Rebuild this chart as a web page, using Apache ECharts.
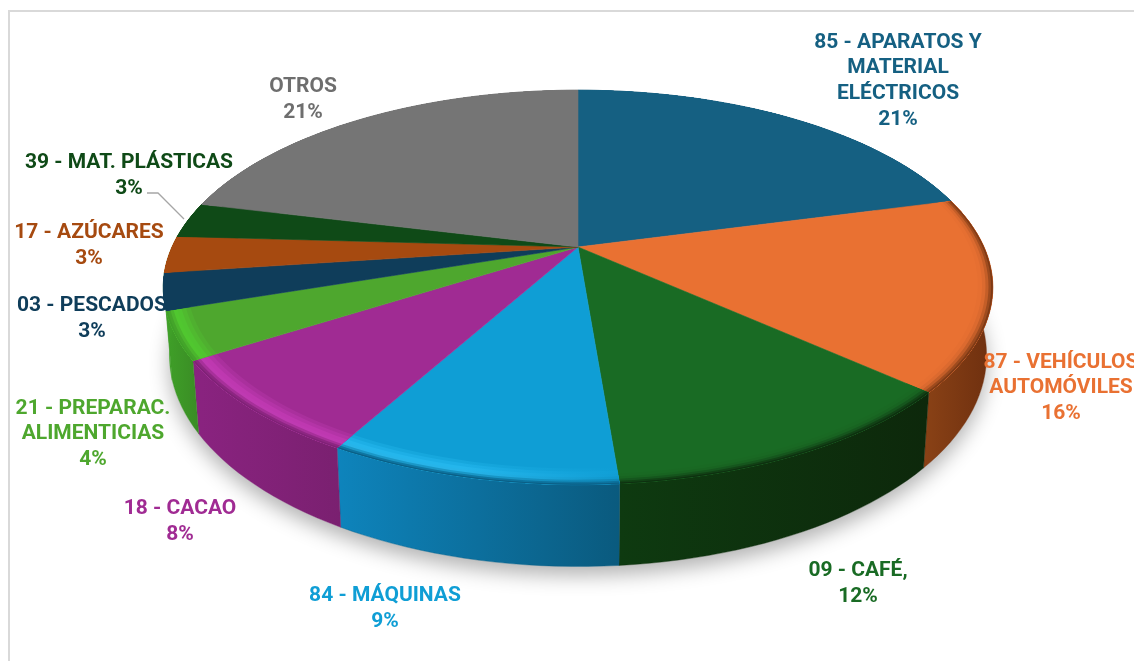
<!DOCTYPE html>
<html>
<head>
<meta charset="utf-8">
<style>html,body{margin:0;padding:0;background:#fff;overflow:hidden}#c{width:1134px;height:661px;filter:blur(0.45px)}</style>
<script src="https://cdn.jsdelivr.net/npm/echarts@6/dist/echarts.min.js"></script>
</head>
<body>
<div id="c"></div>
<script>
// ---- data ----
const categories = ['85 - APARATOS Y\nMATERIAL\nELÉCTRICOS','87 - VEHÍCULOS\nAUTOMÓVILES','09 - CAFÉ,','84 - MÁQUINAS','18 - CACAO','21 - PREPARAC.\nALIMENTICIAS','03 - PESCADOS','17 - AZÚCARES','39 - MAT. PLÁSTICAS','OTROS'];
const shares = [20.9,15.7,12.1,9.4,7.9,3.9,3,3,2.9,21.2];
// ---- styles ----
const topColors  = ['#156082','#E97132','#196B24','#0F9ED5','#A02B93','#4EA72E','#0F3D5A','#A64A10','#0F4A17','#757575'];
const textColors = ['#156082','#E97132','#196B24','#0F9ED5','#A02B93','#4EA72E','#0F3D5A','#A64A10','#0F4A17','#6E6E6E'];
const glowColors = ['#156082','#E97132','#196B24','#2BC0F6','#C83DBA','#52CC30','#0F3D5A','#A64A10','#0F4A17','#757575'];
const glowFade   = [1,1,1,0.05,1,1,1,1,1,1];
const wallLeft   = ['#0E4A66','#8A4216','#0E3A10','#0E84BC','#8A2380','#3FA028','#3FA028','#3FA028','#3FA028','#585858'];
const wallRight  = ['#0E4A66','#6E2F0F','#0D280B','#0A5A7E','#7A2070','#3A8C25','#3FA028','#3FA028','#3FA028','#585858'];
const wallEdge   = ['#156082','#7E3A15','#0D300F','#0A5F86','#7F2276','#3FA028','#0F3D5A','#A64A10','#0F4A17','#757575'];
// ---- layout ----
const labelAt = [[898,81],[1061,388],[858,584],[385,609],[180,522],[93,434],[92,319],[89,246],[129,176],[303,100]];
const P = {cx:578, cy:247, a:189, b:0.205, c:406, depth:65, shrink:0.985};

function project(pct, r, lower){
  const t = pct/100*2*Math.PI, u = r*Math.sin(t), v = -r*Math.cos(t);
  const d = 1 - P.b*v;
  let x = P.c*u/d, y = P.a*v/d;
  if(lower){ x *= P.shrink; y += P.depth/d; }
  return [P.cx + x, P.cy + y];
}
function arc(s, e, r, lower){
  const pts = [], n = Math.max(4, Math.ceil((e-s)*2));
  for(let i=0;i<=n;i++) pts.push(project(s+(e-s)*i/n, r, lower));
  return pts;
}
function hex(c){return [1,3,5].map(i=>parseInt(c.substr(i,2),16));}
function mix(c1,c2,w){const a=hex(c1),b=hex(c2);return '#'+a.map((v,i)=>Math.round(v+(b[i]-v)*w).toString(16).padStart(2,'0')).join('');}

let acc = 0;
const ranges = shares.map(v=>{const r=[acc,acc+v];acc+=v;return r;});

// bevel profile near the rim: [radius, glow weight, edge weight]
const bevel = [[0.945,0.25,0],[0.955,0.5,0],[0.965,0.8,0.03],[0.975,1,0.12],[0.983,0.7,0.35],[0.990,0.3,0.7],[0.996,0,1]];

function renderShadow(){
  return {type:'polygon', shape:{points:arc(0,100,1,true)},
    style:{fill:'#fff', shadowBlur:20, shadowOffsetY:9, shadowColor:'rgba(0,0,0,0.3)'}};
}
function renderWall(params, api){
  const i = params.dataIndex, s = api.value(0), e = api.value(1);
  const pts = arc(s,e,1,false).concat(arc(s,e,1,true).reverse());
  return {type:'polygon', shape:{points:pts}, style:{
    fill:{type:'linear',x:0,y:0,x2:1,y2:0,colorStops:[{offset:0,color:wallLeft[i]},{offset:1,color:wallRight[i]}]},
    stroke:wallRight[i], lineWidth:0.4}};
}
function renderTop(params, api){
  const i = params.dataIndex, s = api.value(0), e = api.value(1);
  const pts = [[P.cx,P.cy]].concat(arc(s,e,1,false));
  const kids = [{type:'polygon', shape:{points:pts}, style:{fill:topColors[i], stroke:topColors[i], lineWidth:0.6}}];
  bevel.forEach(b=>{
    const left  = mix(mix(topColors[i], glowColors[i], b[1]), wallEdge[i], b[2]);
    const right = mix(mix(topColors[i], glowColors[i], b[1]*glowFade[i]), wallEdge[i], b[2]);
    const ring = arc(s,e,b[0],false).concat(arc(s,e,1,false).reverse());
    kids.push({type:'polygon', shape:{points:ring}, style:{
      fill:{type:'linear',x:0,y:0,x2:1,y2:0,colorStops:[{offset:0,color:left},{offset:0.45,color:left},{offset:1,color:right}]}, lineWidth:0}});
  });
  return {type:'group', children:kids};
}
function renderLabel(params){
  const i = params.dataIndex, at = labelAt[i];
  return {type:'text', x:at[0], y:at[1], style:{
    text:categories[i]+'\n'+Math.round(shares[i])+'%', fill:textColors[i],
    font:'700 21px Roboto', lineHeight:25.7, align:'center', verticalAlign:'middle'}};
}

const chart = echarts.init(document.getElementById('c'), null, {renderer:'canvas'});
chart.setOption({
  animation:false,
  backgroundColor:'#fff',
  graphic:[
    {type:'rect', shape:{x:9,y:11,width:1300,height:800}, z:-10, style:{fill:'#fff',stroke:'#D9D9D9',lineWidth:2}},
    {type:'polyline', z:50, shape:{points:[[147,193],[158,193],[184,219]]}, style:{fill:'none',stroke:'#A6A6A6',lineWidth:1.3}}
  ],
  series:[
    {type:'custom', coordinateSystem:'none', z:1, data:[[0,100]], renderItem:renderShadow, silent:true},
    {type:'custom', coordinateSystem:'none', z:2, data:ranges, renderItem:renderWall, silent:true},
    {type:'custom', coordinateSystem:'none', z:3, data:ranges, renderItem:renderTop, silent:true},
    {type:'custom', coordinateSystem:'none', z:10, data:ranges, renderItem:renderLabel, silent:true}
  ]
});
</script>
</body>
</html>
